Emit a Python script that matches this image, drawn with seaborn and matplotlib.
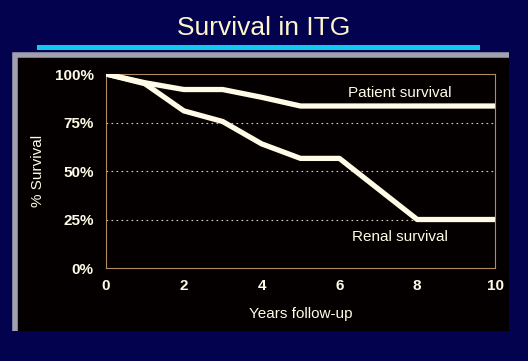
import matplotlib
matplotlib.use("Agg")
import matplotlib.pyplot as plt
from matplotlib.patches import Rectangle
from matplotlib.lines import Line2D
import pandas as pd
import seaborn as sns

# Dados
patient_years = [0, 1, 2, 3, 4, 5, 10]
patient_surv = [100, 95.5, 92, 92, 88, 83.5, 83.5]
renal_years = [0, 1, 2, 3, 4, 5, 6, 8, 10]
renal_surv = [100, 95, 81, 75.5, 64, 56.5, 56.5, 25, 25]
y_ticks = [0, 25, 50, 75, 100]
y_labels = ['0%', '25%', '50%', '75%', '100%']
x_ticks = [0, 2, 4, 6, 8, 10]

df = pd.concat([
    pd.DataFrame({'year': patient_years, 'surv': patient_surv, 'grupo': 'Patient survival'}),
    pd.DataFrame({'year': renal_years, 'surv': renal_surv, 'grupo': 'Renal survival'}),
])

sns.set_style("dark")
plt.rcParams['font.family'] = ['Liberation Sans', 'DejaVu Sans']

fig = plt.figure(figsize=(5.28, 3.61), dpi=100, facecolor='#02024e')

# painel escuro com bisel cinza (topo e esquerda)
fig.patches.append(Rectangle((0.025, 0.084), 0.939, 0.77, transform=fig.transFigure,
                             facecolor='#050000', edgecolor='none', zorder=-5))
fig.lines.append(Line2D([0.028, 0.028, 0.964], [0.084, 0.849, 0.849], transform=fig.transFigure,
                        color='#a0a0b0', linewidth=4, zorder=-4,
                        solid_joinstyle='miter', solid_capstyle='butt'))
# linha ciano sob o título
fig.patches.append(Rectangle((0.07, 0.862), 0.84, 0.012, transform=fig.transFigure,
                             facecolor='#10c8f0', edgecolor='none', zorder=-4))
fig.text(0.5, 0.922, 'Survival in ITG', ha='center', va='center', fontsize=19,
         color='#fff4cc')

ax = fig.add_axes([0.2008, 0.2576, 0.7367, 0.5374])
ax.set_facecolor('#050000')
sns.lineplot(data=df, x='year', y='surv', hue='grupo', palette=['#fffbe6', '#fffbe6'],
             linewidth=3.8, legend=False, ax=ax, zorder=5)

ax.set_xlim(0, 10)
ax.set_ylim(0, 100)
ax.set_xticks(x_ticks)
ax.set_yticks(y_ticks)
ax.set_yticklabels(y_labels)
ax.set_yticks(range(0, 101, 5), minor=True)
ax.tick_params(axis='both', colors='#fffbe6', labelsize=11, length=4, width=0.8,
               direction='out')
ax.tick_params(axis='y', which='minor', length=2, color='#8a6a50', direction='in')
ax.tick_params(axis='x', colors='#8a6a50', labelcolor='#fffbe6', pad=4)
ax.tick_params(axis='y', which='major', length=0, pad=9)
for lab in ax.get_xticklabels() + ax.get_yticklabels():
    lab.set_fontweight('bold')

ax.grid(False)
for v in [25, 50, 75]:
    ax.axhline(v, color='#d8d0c0', linestyle=(0, (1.5, 3)), linewidth=0.8, zorder=1)

for s in ax.spines.values():
    s.set_visible(True)
    s.set_color('#b08a60')
    s.set_linewidth(0.8)

ax.set_xlabel('Years follow-up', color='#fffbe6', fontsize=11, labelpad=10)
ax.set_ylabel('% Survival', color='#fffbe6', fontsize=11, labelpad=7)

ax.text(7.55, 90, 'Patient survival', color='#fffbe6', fontsize=11,
        ha='center', va='center')
ax.text(7.55, 16, 'Renal survival', color='#fffbe6', fontsize=11,
        ha='center', va='center')

fig.savefig('out.png', dpi=100, facecolor=fig.get_facecolor())
